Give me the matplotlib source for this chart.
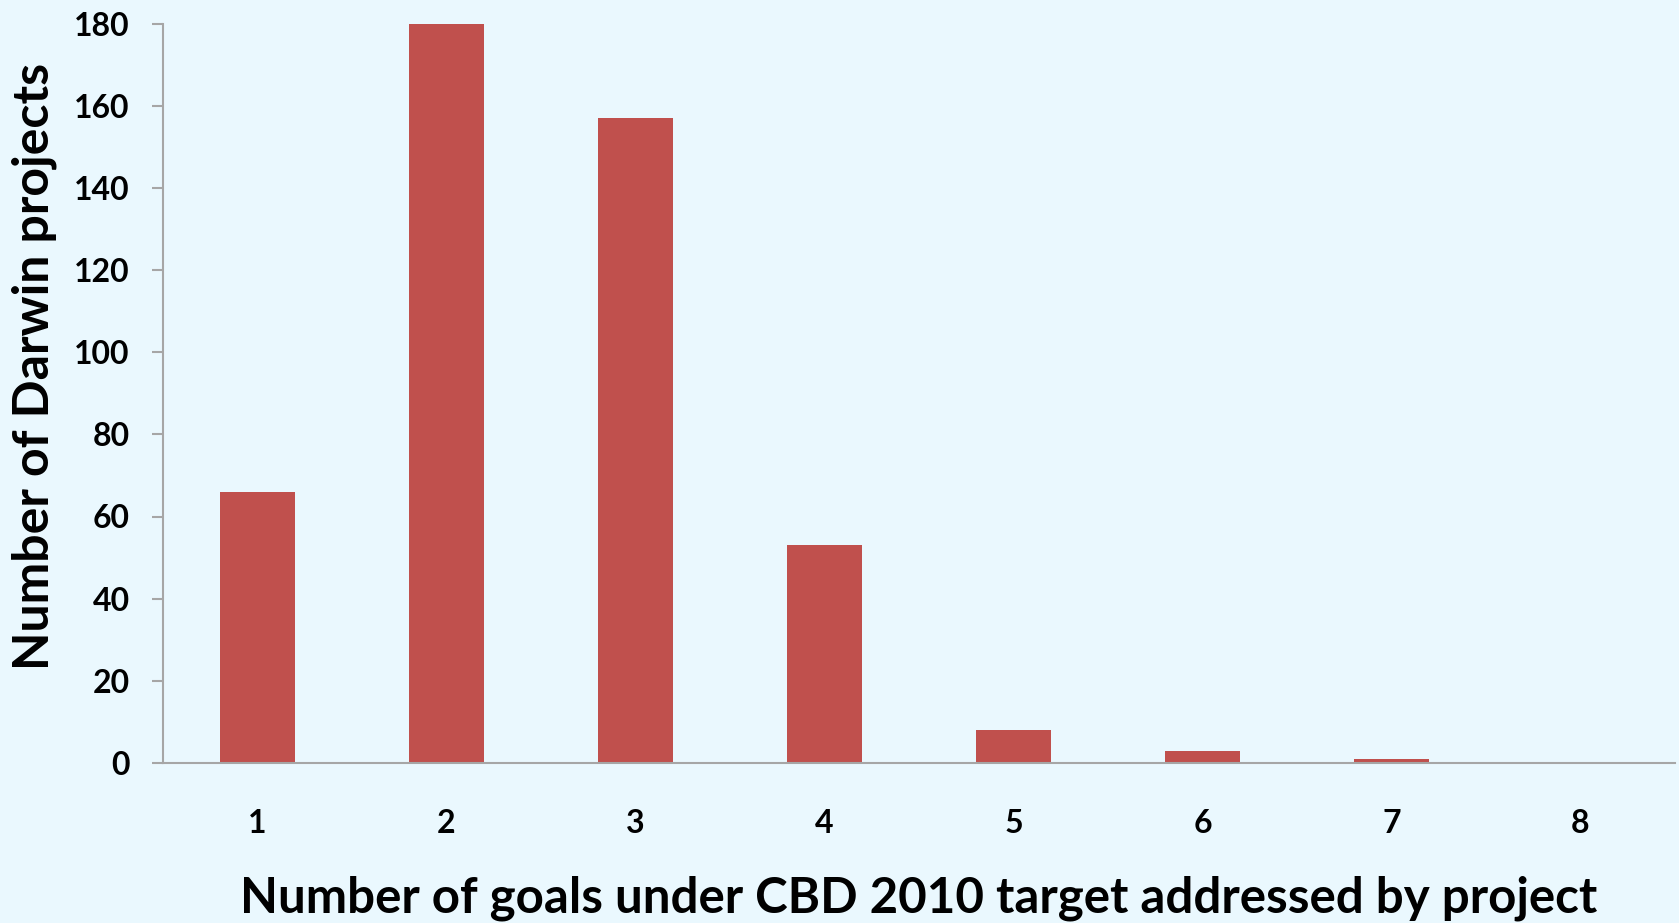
import matplotlib
matplotlib.use("Agg")
import matplotlib.pyplot as plt

# values
goals = [1, 2, 3, 4, 5, 6, 7, 8]
projects = [66, 180, 157, 53, 8, 3, 1, 0]
y_ticks = [0, 20, 40, 60, 80, 100, 120, 140, 160, 180]

bg = "#EAF8FE"
bar_col = "#C0504D"
axis_col = "#A6A6A6"

plt.rcParams['font.family'] = ['Lato', 'DejaVu Sans']

fig = plt.figure(figsize=(16.79, 9.23), dpi=100, facecolor=bg)
ax = fig.add_axes([163/1679, 1 - 763/923, 1512/1679, (763 - 23.5)/923])
ax.set_facecolor(bg)

ax.bar(goals, projects, width=0.4, color=bar_col)

ax.set_xlim(0.5, 8.5)
ax.set_ylim(0, 180)
ax.set_xticks(goals)
ax.set_xticklabels([str(g) for g in goals], fontsize=23, fontweight='bold')
ax.set_yticks(y_ticks)
ax.set_yticklabels([str(v) for v in y_ticks], fontsize=23, fontweight='bold')

for s in ['top', 'right']:
    ax.spines[s].set_visible(False)
for s in ['left', 'bottom']:
    ax.spines[s].set_color(axis_col)
    ax.spines[s].set_linewidth(1.5)

ax.tick_params(axis='x', length=0, pad=33)
ax.tick_params(axis='y', length=8, width=1.5, color=axis_col, pad=16, direction='out')

fig.text(919/1679, 1 - 898/923, "Number of goals under CBD 2010 target addressed by project",
         ha='center', va='center', fontsize=35.5, fontweight='bold')
fig.text(34/1679, 1 - 366/923, "Number of Darwin projects", rotation=90,
         ha='center', va='center', fontsize=36, fontweight='bold')

fig.savefig("out.png", dpi=100, facecolor=bg)
